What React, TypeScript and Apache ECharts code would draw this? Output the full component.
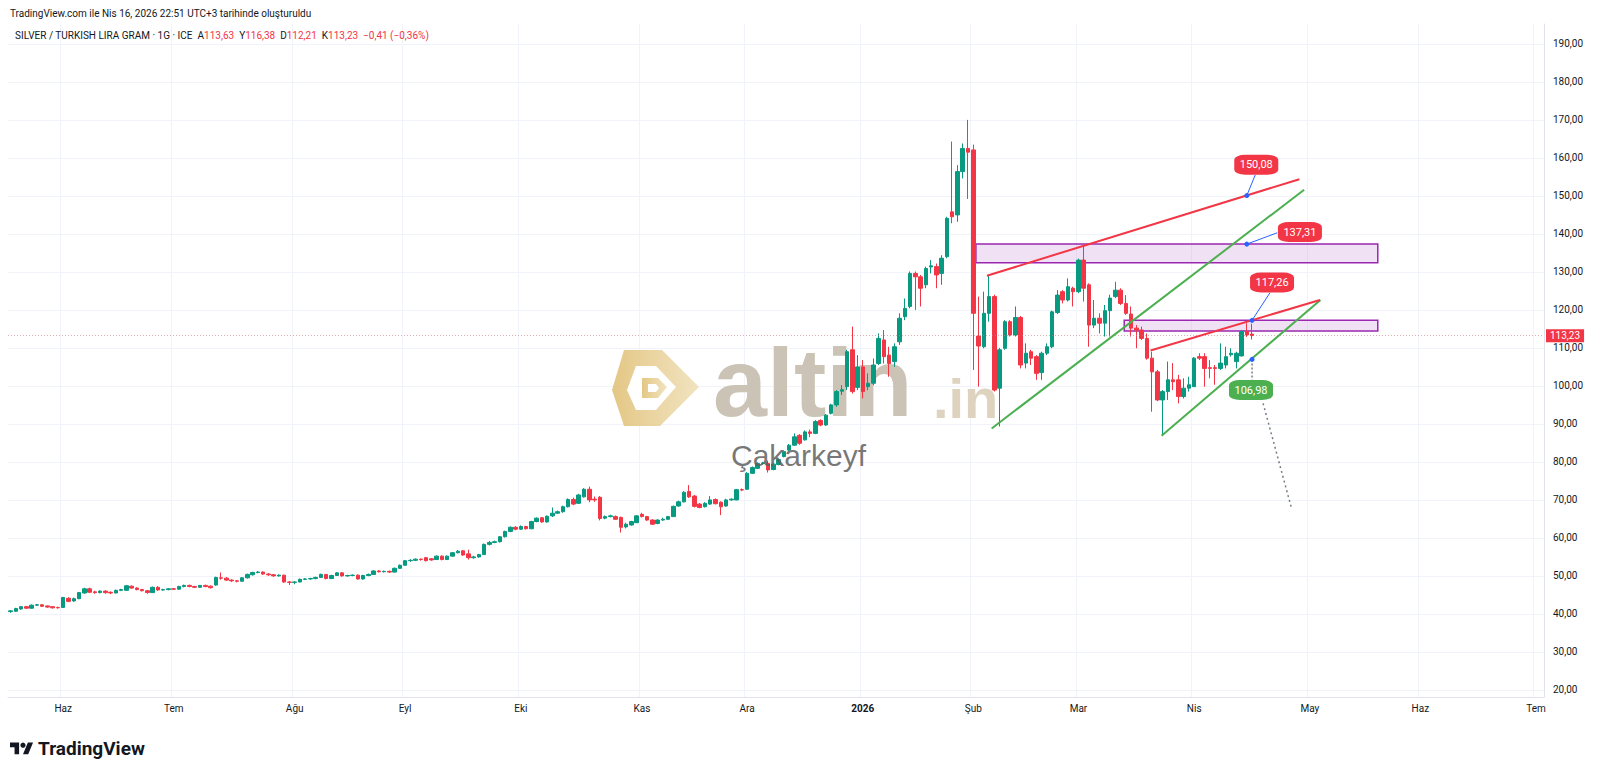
import React, { useEffect, useRef } from "react";
import * as echarts from "echarts";

const FONT = "Roboto, 'Noto Sans', sans-serif";

const START_DATE = "2025-05-19";
const END_DATE = "2026-07-02";
const HOLIDAYS = ["2025-12-25", "2026-01-01"];
const MONTHS_TR = ["Oca", "Şub", "Mar", "Nis", "May", "Haz", "Tem", "Ağu", "Eyl", "Eki", "Kas", "Ara"];

// candles: [open, close, low, high]
const may25 = [
  [40.6, 40.8, 40.3, 41.0], [40.7, 41.4, 40.5, 41.6], [41.3, 41.9, 41.1, 42.1], [41.9, 41.5, 41.3, 42.1],
  [41.5, 42.3, 41.4, 42.5], [42.3, 42.4, 42.1, 42.6], [42.4, 42.0, 41.8, 42.6], [42.1, 41.8, 41.6, 42.2],
  [41.9, 41.6, 41.4, 42.0], [41.7, 41.6, 41.4, 41.9],
];
const jun25 = [
  [41.7, 44.3, 41.6, 44.5], [44.1, 43.3, 43.1, 44.4], [43.4, 44.0, 43.2, 44.3], [44.0, 45.6, 43.9, 45.8],
  [45.5, 46.6, 45.3, 46.9], [46.6, 45.7, 45.5, 46.9], [45.8, 45.6, 45.3, 46.1], [45.6, 46.0, 45.4, 46.2],
  [46.0, 45.6, 45.3, 46.2], [45.7, 45.5, 45.2, 45.9], [45.5, 46.2, 45.4, 46.4], [46.2, 46.4, 46.0, 46.6],
  [46.2, 47.4, 46.1, 47.6], [47.3, 46.8, 46.6, 47.5], [46.8, 46.4, 46.2, 47.0], [46.4, 46.1, 45.9, 46.6],
  [46.1, 45.6, 45.3, 46.3], [45.6, 47.0, 45.5, 47.2], [47.0, 46.3, 46.1, 47.3], [46.3, 46.4, 46.1, 46.6],
  [46.4, 46.6, 46.2, 46.8],
];
const jul25 = [
  [46.6, 46.5, 46.3, 46.8], [46.5, 47.2, 46.4, 47.4], [47.2, 47.5, 47.0, 47.7], [47.5, 47.2, 47.0, 47.7],
  [47.2, 47.0, 46.8, 47.4], [47.0, 47.5, 46.9, 47.6], [47.5, 47.2, 47.0, 47.7], [47.3, 46.9, 46.7, 47.5],
  [47.6, 49.6, 47.4, 49.8], [49.5, 49.4, 49.0, 50.9], [49.4, 48.9, 48.7, 49.7], [48.9, 48.7, 48.4, 49.1],
  [48.7, 48.6, 48.3, 48.9], [48.6, 49.5, 48.5, 49.7], [49.5, 50.4, 49.3, 50.6], [50.3, 50.9, 50.1, 51.1],
  [50.9, 51.0, 50.7, 51.3], [51.0, 50.5, 50.3, 51.2], [50.5, 50.3, 50.0, 50.7], [50.3, 50.0, 49.8, 50.5],
  [50.0, 50.2, 49.8, 50.4], [50.2, 48.4, 48.2, 50.3], [48.4, 48.3, 47.6, 48.6],
];
const aug25 = [
  [48.3, 48.4, 47.8, 48.6], [48.4, 49.1, 48.3, 49.3], [49.1, 49.2, 48.9, 49.4], [49.2, 49.3, 49.0, 49.5],
  [49.3, 49.6, 49.1, 49.8], [49.6, 50.4, 49.5, 50.6], [50.4, 49.3, 49.1, 50.5], [49.3, 50.1, 49.2, 50.3],
  [50.1, 50.8, 50.0, 51.0], [50.8, 50.0, 49.8, 51.0], [50.0, 50.1, 49.8, 50.3], [50.1, 50.2, 49.9, 50.4],
  [50.2, 49.2, 49.0, 50.4], [49.2, 50.1, 49.0, 50.3], [50.1, 50.4, 49.9, 50.6], [50.4, 51.3, 50.3, 51.5],
  [51.3, 51.1, 50.9, 51.5], [51.1, 51.2, 50.9, 51.4], [51.2, 51.0, 50.8, 51.4], [51.0, 52.0, 50.9, 52.2],
  [52.0, 52.8, 51.9, 53.0],
];
const sep25 = [
  [52.8, 54.0, 52.7, 54.2], [54.0, 54.1, 53.7, 54.4], [54.1, 54.4, 53.9, 54.6], [54.4, 54.3, 54.0, 54.6],
  [54.8, 54.0, 53.8, 55.0], [54.5, 54.2, 54.0, 54.7], [54.3, 55.2, 54.2, 55.4], [55.2, 54.3, 54.1, 55.4],
  [54.3, 55.2, 54.2, 55.4], [55.2, 56.1, 55.1, 56.3], [56.1, 56.5, 55.9, 56.8], [56.6, 55.5, 55.3, 56.8],
  [55.8, 54.8, 54.3, 56.9], [54.8, 55.0, 54.5, 55.3], [55.0, 55.6, 54.8, 55.8], [55.6, 58.3, 55.5, 58.5],
  [58.3, 58.8, 58.0, 59.2], [58.8, 59.0, 58.6, 59.3], [59.0, 60.3, 58.8, 60.5], [60.3, 61.7, 60.1, 61.9],
  [61.7, 62.8, 61.5, 63.0], [62.8, 62.3, 62.0, 63.1],
];
const oct25 = [
  [62.3, 63.0, 62.1, 63.3], [63.0, 62.4, 62.2, 63.2], [62.4, 64.3, 62.3, 64.5], [64.3, 65.2, 64.1, 65.4],
  [65.3, 64.2, 64.0, 65.5], [64.2, 65.7, 64.0, 65.9], [65.8, 66.5, 65.5, 68.0], [66.5, 66.9, 66.3, 67.2],
  [66.9, 68.2, 66.6, 68.5], [68.2, 70.1, 68.0, 70.4], [70.1, 68.9, 68.6, 70.6], [69.1, 71.3, 68.9, 71.6],
  [70.8, 72.8, 70.6, 73.1], [72.8, 70.0, 69.4, 73.5], [70.2, 70.0, 69.5, 70.9], [70.7, 65.1, 64.6, 71.0],
  [65.2, 65.6, 64.9, 65.9], [65.6, 65.8, 65.4, 66.1], [65.6, 64.9, 64.7, 65.9], [65.4, 62.8, 61.4, 65.6],
  [62.9, 63.6, 62.5, 64.0], [63.4, 64.3, 63.2, 64.5], [64.0, 65.8, 63.9, 66.0],
];
const nov25 = [
  [66.2, 65.6, 65.4, 66.6], [65.6, 64.7, 64.5, 65.8], [64.7, 63.6, 63.4, 64.9], [63.8, 64.7, 63.6, 64.9],
  [64.7, 64.9, 64.5, 65.3], [64.9, 65.6, 64.7, 65.8], [65.6, 68.3, 65.5, 68.5], [68.4, 69.5, 68.2, 69.8],
  [69.5, 72.0, 69.3, 72.3], [72.2, 70.8, 70.5, 73.9], [71.0, 68.3, 68.0, 71.3], [68.9, 68.0, 67.8, 69.2],
  [68.2, 69.1, 68.0, 69.4], [68.9, 70.0, 68.7, 71.0], [70.1, 69.0, 68.8, 70.4], [69.4, 68.2, 66.0, 69.6],
  [68.4, 70.0, 68.2, 70.3], [70.0, 70.2, 69.8, 70.4], [70.0, 72.7, 69.9, 72.9], [72.7, 72.6, 72.3, 73.0],
];
const dec25 = [
  [72.8, 77.0, 72.7, 77.3], [77.0, 78.5, 76.8, 78.8], [78.3, 79.6, 78.1, 79.9], [79.6, 79.7, 79.3, 80.0],
  [79.6, 77.9, 77.2, 80.3], [78.0, 79.4, 77.8, 79.7], [79.3, 80.6, 79.1, 80.9], [81.4, 82.7, 81.2, 83.0],
  [83.1, 84.4, 82.9, 84.7], [84.4, 86.6, 84.2, 87.5], [87.0, 84.9, 84.5, 87.3], [85.8, 87.9, 85.6, 88.3],
  [87.9, 87.5, 86.5, 88.5], [87.5, 90.6, 87.3, 91.0], [90.9, 89.7, 89.4, 91.2], [89.7, 92.3, 89.5, 92.6],
  [92.8, 95.0, 92.5, 95.3], [95.0, 98.5, 94.5, 98.9], [98.6, 99.0, 97.6, 100.2], [99.8, 109.0, 98.9, 109.5],
  [109.5, 98.5, 98.0, 115.6], [99.6, 105.0, 98.9, 108.1],
];
const jan26 = [
  [105.0, 98.5, 96.7, 106.8], [99.8, 100.7, 98.9, 103.3], [100.7, 105.5, 100.2, 107.2], [105.9, 112.5, 105.5, 113.8],
  [112.1, 107.7, 105.9, 114.7], [108.1, 105.9, 102.4, 110.3], [106.4, 110.3, 105.0, 111.2], [111.6, 117.8, 110.8, 119.1],
  [118.2, 120.4, 117.3, 123.0], [120.9, 129.6, 120.4, 130.1], [129.6, 128.7, 120.0, 130.1], [128.7, 125.7, 120.9, 129.2],
  [126.6, 130.9, 125.7, 131.4], [131.3, 131.6, 129.6, 133.1], [131.4, 129.2, 125.7, 132.2], [129.6, 133.6, 126.6, 134.4],
  [134.0, 144.1, 133.6, 144.5], [145.8, 144.5, 142.8, 164.3], [145.0, 156.4, 143.2, 158.1], [156.4, 162.5, 154.6, 163.8],
  [162.5, 161.5, 149.2, 170.0],
];
const feb26 = [
  [162.1, 119.1, 104.2, 163.5], [113.1, 110.5, 99.8, 123.5], [110.3, 119.1, 109.9, 124.8], [119.1, 123.5, 116.9, 129.2],
  [123.5, 98.9, 98.5, 124.0], [99.4, 109.5, 89.3, 110.0], [109.9, 116.9, 109.5, 117.3], [116.9, 113.4, 113.0, 117.3],
  [113.4, 118.0, 113.0, 120.9], [118.0, 105.5, 104.6, 118.4], [106.0, 108.6, 104.6, 111.2], [109.0, 107.3, 105.5, 109.5],
  [107.7, 103.3, 101.6, 108.1], [103.5, 108.6, 101.6, 109.0], [108.6, 110.3, 108.1, 111.2], [110.3, 119.5, 109.9, 119.8],
  [119.3, 123.9, 118.9, 125.2], [124.8, 122.6, 121.7, 125.2], [122.6, 126.1, 122.2, 128.3], [125.7, 124.8, 120.9, 126.1],
];
const mar26 = [
  [124.8, 133.1, 124.4, 133.5], [133.1, 125.7, 122.2, 137.1], [126.6, 116.0, 110.3, 127.0], [116.0, 117.8, 115.2, 122.6],
  [117.8, 116.5, 113.8, 119.1], [116.5, 119.8, 113.0, 121.3], [119.8, 123.1, 113.0, 124.0], [123.5, 125.2, 123.1, 127.4],
  [125.2, 121.7, 121.3, 125.7], [121.7, 119.1, 118.7, 123.9], [118.9, 115.2, 113.0, 120.9], [115.2, 114.7, 109.9, 116.0],
  [114.7, 112.5, 112.1, 115.6], [112.5, 107.3, 106.9, 113.8], [107.3, 103.7, 93.2, 109.0], [103.7, 96.3, 96.0, 104.2],
  [96.3, 98.5, 87.1, 98.9], [98.5, 101.6, 96.3, 106.4], [101.6, 101.1, 98.9, 106.0], [101.6, 97.2, 95.4, 102.9],
  [97.2, 99.4, 96.7, 102.0], [99.4, 100.3, 98.5, 102.4],
];
const apr26 = [
  [99.8, 107.3, 99.8, 107.6], [107.7, 107.3, 106.8, 108.6], [107.7, 104.6, 99.8, 108.6], [104.8, 104.6, 102.0, 106.8],
  [104.8, 104.6, 100.3, 105.5], [104.6, 106.0, 104.2, 111.2], [105.5, 107.7, 104.6, 110.3], [108.2, 108.6, 107.7, 109.9],
  [106.4, 108.6, 104.6, 109.0], [107.9, 114.3, 107.7, 114.7], [114.3, 113.4, 112.9, 116.5], [113.63, 113.23, 112.21, 116.38],
];
const candles = [
  ...may25, ...jun25, ...jul25, ...aug25, ...sep25, ...oct25,
  ...nov25, ...dec25, ...jan26, ...feb26, ...mar26, ...apr26,
];

const Y_MIN = 20;
const Y_MAX = 190;
const Y_STEP = 10;
const LAST_PRICE = 113.23;

// drawings, in [bar index, price]
const redUpper = [[185.6, 129.0], [245.0, 154.4]];
const greenUpper = [[186.5, 88.8], [245.9, 151.6]];
const redLower = [[216.7, 109.3], [248.9, 122.6]];
const greenLower = [[218.8, 86.9], [249.0, 122.6]];
const zones = [
  { from: 183.5, to: 259.9, top: 137.31, bottom: 132.4 },
  { from: 211.7, to: 259.9, top: 117.26, bottom: 114.45 },
];
const projection = [[238.1, 95.4], [243.5, 67.8]];
const tags = [
  { text: "150,08", dot: [235, 150.08], at: [236.8, 158.2], link: [236.6, 155.5], color: "#f23645", dotted: false },
  { text: "137,31", dot: [235, 137.31], at: [245.1, 140.5], link: [240.8, 140.3], color: "#f23645", dotted: false },
  { text: "117,26", dot: [236, 117.26], at: [239.8, 127.2], link: [239.4, 124.5], color: "#f23645", dotted: false },
  { text: "106,98", dot: [236, 106.98], at: [235.8, 98.9], link: [236, 101.6], color: "#4caf50", dotted: true },
];

const HEADER = "TradingView.com ile Nis 16, 2026 22:51 UTC+3 tarihinde oluşturuldu";
const SYMBOL_LINE =
  "SILVER / TURKISH LIRA GRAM · 1G · ICE  A{r|113,63}  Y{r|116,38}  D{r|112,21}  K{r|113,23}  {r|−0,41 (−0,36%)}";

function buildDates(): string[] {
  const out: string[] = [];
  const d = new Date(START_DATE + "T00:00:00Z");
  const end = new Date(END_DATE + "T00:00:00Z");
  while (d <= end) {
    const wd = d.getUTCDay();
    const s = d.toISOString().slice(0, 10);
    if (wd !== 0 && wd !== 6 && !HOLIDAYS.includes(s)) out.push(s);
    d.setUTCDate(d.getUTCDate() + 1);
  }
  return out;
}

const dates = buildDates();
const monthLabels = dates.map((s, i) => {
  if (i === 0) return "";
  const m = s.slice(0, 7);
  if (m === dates[i - 1].slice(0, 7)) return "";
  const mi = parseInt(s.slice(5, 7), 10) - 1;
  return mi === 0 ? s.slice(0, 4) : MONTHS_TR[mi];
});

echarts.graphic.registerShape(
  "tvlogo",
  echarts.graphic.extendPath("M14 22H7V11H0V4h14v18zM28 22h-8l7.5-18h8L28 22z", {})
);

function lineSeries(data: number[][], color: string, width: number, type: any = "solid", z = 5): any {
  return {
    type: "line",
    xAxisIndex: 2,
    yAxisIndex: 0,
    data,
    symbol: "none",
    silent: true,
    clip: false,
    lineStyle: { color, width, type },
    z,
  };
}

function buildOption(): any {
  const N = dates.length;
  const isLabel = (idx: number) => monthLabels[idx] !== "";
  const gold = {
    type: "linear", x: 0, y: 0, x2: 1, y2: 0,
    colorStops: [{ offset: 0, color: "#dfbd70" }, { offset: 1, color: "#efdfb6" }],
  };
  const WM_FONT = "'Liberation Sans', Arial, sans-serif";
  return {
    animation: false,
    backgroundColor: "#ffffff",
    textStyle: { fontFamily: FONT },
    grid: [
      { left: 8, right: 56, top: 43.9, bottom: 82.1 },
      { left: 8, right: 56, top: 24, bottom: 75 },
    ],
    xAxis: [
      { type: "category", gridIndex: 0, data: dates, boundaryGap: true, show: false },
      {
        type: "category", gridIndex: 1, data: dates, boundaryGap: true,
        axisLine: { show: true, lineStyle: { color: "#e0e3eb" } },
        axisTick: { show: false },
        axisLabel: {
          interval: (idx: number) => isLabel(idx),
          formatter: (_v: string, idx: number) =>
            monthLabels[idx] === "2026" ? "{b|2026}" : monthLabels[idx],
          color: "#131722", fontSize: 10, margin: 6, fontFamily: FONT,
          rich: { b: { fontWeight: "bold", fontSize: 10, color: "#131722", fontFamily: FONT } },
        },
        splitLine: {
          show: true,
          interval: (idx: number) => isLabel(idx),
          lineStyle: { color: "#f0f3fa", width: 1 },
        },
      },
      { type: "value", gridIndex: 0, min: -0.5, max: N - 0.5, show: false },
    ],
    yAxis: [
      {
        type: "value", gridIndex: 0, position: "right", min: Y_MIN, max: Y_MAX, interval: Y_STEP,
        axisLine: { show: false }, axisTick: { show: false },
        axisLabel: {
          margin: 9, color: "#131722", fontSize: 10, fontFamily: FONT,
          formatter: (v: number) => v.toFixed(2).replace(".", ","),
        },
        splitLine: { lineStyle: { color: "#f0f3fa", width: 1 } },
      },
      {
        type: "value", gridIndex: 1, position: "right",
        axisLine: { show: true, lineStyle: { color: "#e0e3eb" } },
        axisTick: { show: false }, axisLabel: { show: false }, splitLine: { show: false },
      },
    ],
    series: [
      {
        type: "candlestick",
        xAxisIndex: 0,
        yAxisIndex: 0,
        data: candles,
        barWidth: 4,
        z: 2,
        itemStyle: {
          color: "#089981", color0: "#f23645",
          borderColor: "#089981", borderColor0: "#f23645", borderWidth: 1,
        },
        markLine: {
          silent: true,
          symbol: ["none", "none"],
          data: [{ yAxis: LAST_PRICE }],
          lineStyle: { color: "rgba(200,120,128,0.6)", type: [1, 2], width: 1 },
          label: {
            show: true, position: "end", distance: 2,
            formatter: LAST_PRICE.toFixed(2).replace(".", ","),
            backgroundColor: "#f23645", color: "#ffffff", padding: [2, 4, 1, 4],
            fontSize: 10, fontFamily: FONT, opacity: 1,
          },
        },
      },
      {
        ...lineSeries(greenUpper, "#4caf50", 2),
        markArea: {
          silent: true,
          itemStyle: { color: "rgba(206,147,216,0.28)", borderColor: "#9c27b0", borderWidth: 1.5 },
          data: zones.map((zn) => [{ coord: [zn.from, zn.top] }, { coord: [zn.to, zn.bottom] }]),
        },
      },
      lineSeries(greenLower, "#4caf50", 2),
      lineSeries(redUpper, "#f23645", 2),
      lineSeries(redLower, "#f23645", 2),
      lineSeries(projection, "#787b86", 1.5, [2, 3], 6),
      ...tags.map((t) =>
        lineSeries([t.dot, t.link], t.dotted ? "#787b86" : "#2962ff", t.dotted ? 1.5 : 1, t.dotted ? [2, 2] : "solid", 6)
      ),
      {
        type: "scatter", xAxisIndex: 2, yAxisIndex: 0, silent: true, z: 7,
        symbolSize: 5,
        itemStyle: { color: "#2962ff", opacity: 1 },
        data: tags.map((t) => t.dot),
      },
      {
        type: "scatter", xAxisIndex: 2, yAxisIndex: 0, silent: true, z: 8,
        symbol: "roundRect", symbolSize: [44, 20],
        label: { show: true, position: "inside", color: "#ffffff", fontSize: 11, fontFamily: FONT },
        data: tags.map((t) => ({
          value: t.at,
          itemStyle: { color: t.color, opacity: 1 },
          label: { formatter: t.text },
        })),
      },
    ],
    graphic: [
      {
        type: "text", x: 10, y: 13, z: 20,
        style: { text: HEADER, fill: "#131722", fontSize: 10, fontFamily: FONT, verticalAlign: "middle" },
      },
      {
        type: "text", x: 15, y: 35, z: 20,
        style: {
          text: SYMBOL_LINE, fill: "#131722", fontSize: 10, fontFamily: FONT, verticalAlign: "middle",
          rich: { r: { fill: "#f23645", fontSize: 10, fontFamily: FONT } },
        },
      },
      // watermark logo
      {
        type: "group", x: 612, y: 350, z: 1,
        children: [
          { type: "polygon", z: 1, shape: { points: [[12, 0], [50, 0], [87, 37], [48, 76], [12, 76], [0, 40]] }, style: { fill: gold, opacity: 0.85 } },
          { type: "polygon", z: 1, shape: { points: [[24, 16], [44, 16], [64, 37], [44, 60], [24, 60], [15, 40]] }, style: { fill: "#ffffff" } },
          { type: "polygon", z: 1, shape: { points: [[30, 28], [46, 28], [55, 37], [46, 48], [30, 48]] }, style: { fill: gold, opacity: 0.85 } },
          { type: "polygon", z: 1, shape: { points: [[36, 34], [44, 34], [47, 38], [44, 42], [36, 42]] }, style: { fill: "#ffffff" } },
        ],
      },
      {
        type: "text", x: 713, y: 382, z: 1,
        style: { text: "altin", fill: "#cbc4b6", fontSize: 97, lineHeight: 72, fontWeight: "bold", fontFamily: WM_FONT, verticalAlign: "middle" },
      },
      {
        type: "text", x: 933, y: 398, z: 1,
        style: { text: ".in", fill: "#ddd3bf", fontSize: 56, lineHeight: 40, fontWeight: "bold", fontFamily: WM_FONT, verticalAlign: "middle" },
      },
      {
        type: "text", x: 731, y: 455, z: 30,
        style: { text: "Çakarkeyf", fill: "rgba(95,95,95,0.85)", fontSize: 30, lineHeight: 26, fontFamily: WM_FONT, verticalAlign: "middle" },
      },
      // TradingView footer logo
      { type: "tvlogo", x: 10, y: 740, scaleX: 0.65, scaleY: 0.65, z: 20, style: { fill: "#131722" } },
      { type: "circle", z: 20, shape: { cx: 10 + 20 * 0.65, cy: 740 + 8 * 0.65, r: 4 * 0.65 }, style: { fill: "#131722" } },
      {
        type: "text", x: 38, y: 748, z: 20,
        style: { text: "TradingView", fill: "#131722", fontSize: 19, fontWeight: "bold", fontFamily: FONT, verticalAlign: "middle" },
      },
    ],
  };
}

export default function App() {
  const ref = useRef<HTMLDivElement>(null);
  useEffect(() => {
    if (!ref.current) return;
    const chart = echarts.init(ref.current, null, { renderer: "svg" });
    chart.setOption(buildOption());
    return () => chart.dispose();
  }, []);
  return (
    <div
      ref={ref}
      style={{ position: "fixed", left: 0, top: 0, width: 1600, height: 772, background: "#ffffff" }}
    />
  );
}
